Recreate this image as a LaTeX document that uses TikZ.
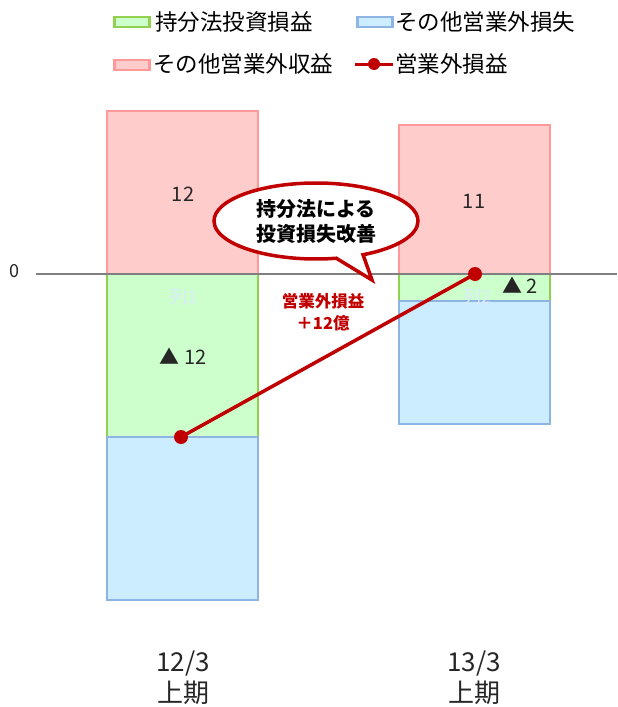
\documentclass[tikz,border=0pt]{standalone}
\usepackage{fontspec}
\setmainfont{Noto Sans CJK JP}
\usetikzlibrary{shapes.callouts}

\definecolor{pinkfill}{HTML}{FFCCCC}
\definecolor{pinkline}{HTML}{FF9999}
\definecolor{greenfill}{HTML}{CCFFCC}
\definecolor{greenline}{HTML}{92D050}
\definecolor{bluefill}{HTML}{CCECFF}
\definecolor{blueline}{HTML}{8EB4E3}
\definecolor{darkred}{HTML}{C00000}
\definecolor{axisgray}{HTML}{808080}
\definecolor{ghost}{HTML}{DCEBFA}

\begin{document}
\begin{tikzpicture}[x=1pt,y=-1pt,
    bar/.style={rectangle, inner sep=0pt, line width=2.2pt, minimum width=151pt},
    pinkbar/.style={bar, fill=pinkfill, draw=pinkline},
    greenbar/.style={bar, fill=greenfill, draw=greenline},
    bluebar/.style={bar, fill=bluefill, draw=blueline},
    swatch/.style={rectangle, inner sep=0pt, line width=2.2pt, minimum width=35pt, minimum height=10pt},
    legtext/.style={anchor=west, inner sep=0pt, font=\fontsize{22.5}{24}\selectfont},
    num/.style={font=\fontsize{20}{22}\selectfont, text=black!85},
    ghostlbl/.style={font=\fontsize{18}{20}\selectfont, text=ghost},
    period/.style={font=\fontsize{26}{31}\selectfont, align=center, text=black!85},
    dot/.style={circle, fill=darkred, inner sep=0pt, minimum size=14pt}]
    \useasboundingbox (0,0) rectangle (618,707);
    % legend
    \node[swatch,fill=greenfill,draw=greenline] (sw1) at (132,22) {};
    \node[legtext] (lg1) at (155,22) {持分法投資損益};
    \node[swatch,fill=bluefill,draw=blueline] (sw2) at (375,22) {};
    \node[legtext] (lg2) at (395,22) {その他営業外損失};
    \node[swatch,fill=pinkfill,draw=pinkline] (sw3) at (132,65) {};
    \node[legtext] (lg3) at (153,64) {その他営業外収益};
    \coordinate (sw4a) at (355,64);
    \coordinate (sw4b) at (393,64);
    \draw[darkred, line width=3pt] (sw4a) -- (sw4b);
    \node[dot, minimum size=12pt] (sw4) at (374,64) {};
    \node[legtext] (lg4) at (395,64) {営業外損益};
    % bars
    \node[pinkbar, minimum height=163pt] (P1) at (182.5,192.5) {};
    \node[greenbar, minimum height=163pt] (G1) at (182.5,355.5) {};
    \node[bluebar, minimum height=163pt] (B1) at (182.5,518.5) {};
    \node[pinkbar, minimum height=149pt] (P2) at (474.5,199.5) {};
    \node[greenbar, minimum height=27pt] (G2) at (474.5,287.5) {};
    \node[bluebar, minimum height=123pt] (B2) at (474.5,362.5) {};
    % axis
    \coordinate (ax0) at (36,274);
    \coordinate (ax1) at (617,274);
    \draw[axisgray, line width=2pt] (ax0) -- (ax1);
    \node[num, font=\fontsize{18}{20}\selectfont] (zero) at (14,271) {0};
    % values
    \node[num] (v1) at (183,194) {12};
    \node[num] (v2) at (474,201) {11};
    \node[num] (v3) at (183,356) {▲ 12};
    \node[num] (v4) at (520,285) {▲ 2};
    \node[ghostlbl] (c1) at (183,297) {列1};
    \node[ghostlbl] (c2) at (477,297) {列2};
    % total line
    \node[dot] (t1) at (181,437) {};
    \node[dot] (t2) at (475,274) {};
    \draw[darkred, line width=3.5pt] (t1.center) -- (t2.center);
    \node[text=darkred, align=center, font=\bfseries\fontsize{16.5}{22}\selectfont] (gain) at (323,312) {営業外損益\\＋12億};
    % callout
    \node[ellipse callout, draw=darkred, fill=white, line width=3.5pt,
        minimum width=204pt, minimum height=76pt, align=center,
        callout absolute pointer={(372,280)}, callout pointer arc=16,
        font=\bfseries\fontsize{20}{25}\selectfont] (note) at (316,221) {持分法による\\投資損失改善};
    % periods
    \node[period] (x1) at (183,678) {12/3\\上期};
    \node[period] (x2) at (474,678) {13/3\\上期};
\end{tikzpicture}
\end{document}
